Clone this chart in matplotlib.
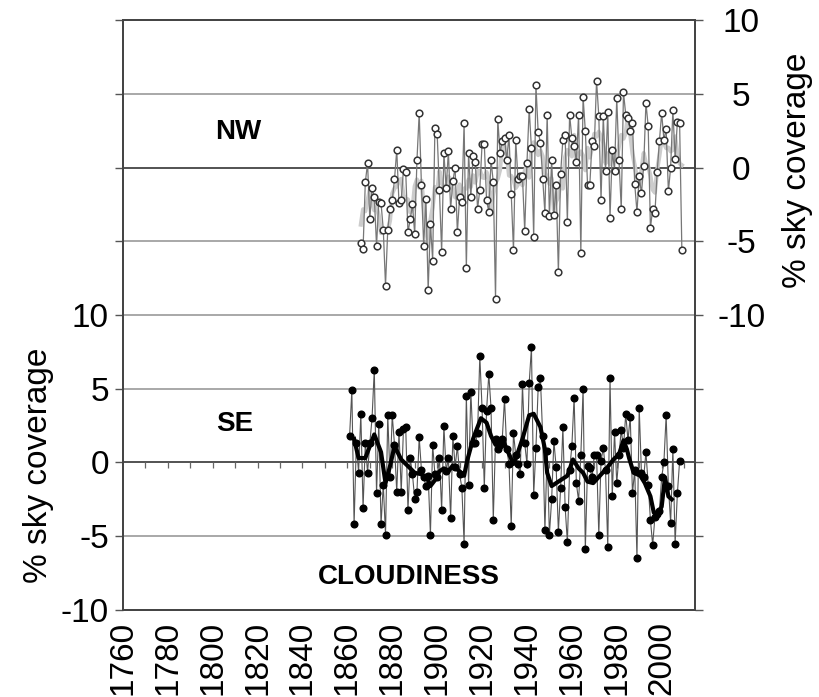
import numpy as np
import pandas as pd
import matplotlib
matplotlib.use('Agg')
import matplotlib.pyplot as plt

plt.rcParams['font.family'] = ['Liberation Sans', 'DejaVu Sans']

# NW cloudiness anomaly (% sky coverage), one value per year from 1866
nw_start = 1866
nw_values = [
    -5.1, -5.5, -1.0, 0.3, -3.5, -1.4, -2.0, -5.3, -2.3, -2.4,
    -4.2, -8.0, -4.2, -2.8, -2.2, -0.8, 1.2, -2.4, -2.2, -0.1,
    -0.3, -4.4, -3.5, -2.5, -4.5, 0.5, 3.7, -1.2, -5.3, -2.1,
    -8.3, -3.8, -6.3, 2.7, 2.3, -1.5, -5.7, 1.0, -1.4, 1.1,
    -2.8, -0.9, 0.0, -4.4, -2.0, -2.3, 3.0, -6.8, 1.0, -2.0,
    0.8, 0.4, -2.8, -1.5, 1.6, 1.6, -2.2, -3.0, 0.5, -1.0,
    -8.9, 3.3, 1.0, 1.8, 2.0, 0.5, 2.2, -1.8, -5.6, 1.9,
    -0.8, -0.6, -0.6, -4.3, 0.3, 4.0, 1.3, -4.7, 5.6, 2.4,
    1.7, -0.75, -3.1, 3.6, -3.3, 0.5, -3.2, -1.2, -7.1, -0.4,
    1.9, 2.2, -3.7, 3.6, 2.0, 1.5, 0.4, 3.6, -5.8, 4.8,
    2.5, -1.2, -1.2, 1.8, 1.5, 5.9, 3.5, -2.2, 3.5, -0.2,
    3.75, -3.4, 1.2, -0.2, 4.7, 0.5, -2.8, 5.1, 3.6, 3.4,
    2.5, 3.0, -1.1, -3.0, -0.6, -1.75, 0.1, 4.4, 2.8, -4.1,
    -2.8, -3.1, -0.3, 1.8, 3.7, 1.9, 2.6, -1.6, 0.0, 3.9,
    0.6, 3.1, 3.0, -5.6,
]

# SE cloudiness anomaly, one value per year from 1861
se_start = 1861
se_values = [
    1.8, 4.9, -4.2, 1.3, -0.7, 3.3, -3.1, 1.3, -0.7, 1.3,
    3.0, 6.3, -2.1, 2.6, -4.2, -1.5, -4.9, 3.2, -1.0, 3.2,
    1.2, -2.0, 2.1, -2.0, 2.3, 2.4, -3.2, 0.3, -0.8, -2.5,
    -2.0, 1.7, -0.5, -1.0, -1.6, -0.9, -4.9, 1.2, -0.8, -1.0,
    0.3, -3.2, 2.5, -0.6, 0.3, -3.8, 1.8, -0.3, 1.1, -0.8,
    -1.7, -5.5, 4.5, -1.5, 4.8, 1.3, 1.3, 2.0, 7.2, 3.7,
    -1.7, 3.5, 6.0, 3.7, -3.9, 1.6, 0.9, 1.2, 1.6, 4.3,
    0.9, -0.1, -4.3, 2.0, 0.5, -0.1, -0.8, 5.3, 1.3, -0.1,
    5.4, 7.8, -2.2, 1.0, 5.1, 5.7, 1.8, -4.6, 0.8, -4.9,
    -2.5, 1.45, -0.3, -4.7, -1.7, 2.4, -3.0, -5.4, -0.5, 1.1,
    4.4, -1.4, -2.6, 0.5, 5.0, -5.9, -0.25, -0.4, -1.0, 0.5,
    0.5, -4.9, 0.1, 1.0, -0.5, -5.75, 5.7, -2.3, 2.1, -1.4,
    0.5, 2.2, 1.0, 3.3, 1.5, 3.1, -2.1, -0.5, -6.5, 3.7,
    -0.7, -1.0, 0.7, -1.5, -3.9, -5.6, -3.7, -3.5, -3.3, -1.0,
    0.0, 3.2, -1.6, -4.1, 0.9, -5.5, -2.1, 0.1,
]

# SE smoothed curve (thick black line)
se_smooth_years = [
    1863, 1865, 1868, 1870, 1872, 1875, 1877, 1879, 1881, 1884,
    1887, 1890, 1893, 1896, 1897, 1899, 1901, 1903, 1905, 1907,
    1910, 1912, 1913.5, 1916, 1919.5, 1922, 1924, 1926, 1929, 1931,
    1934, 1936, 1938, 1941, 1943, 1946, 1948, 1949, 1951, 1953,
    1955, 1958, 1960.5, 1963, 1965, 1967, 1969.5, 1972.5, 1975.5, 1978.5,
    1981, 1983, 1984.5, 1985.5, 1987.5, 1990.5, 1992.5, 1995, 1996.5, 1998.5,
    2000, 2001.5, 2003, 2004.5,
]
se_smooth_values = [
    1.6, 0.3, 0.3, 1.1, 1.9, 0.7, -1.4, -0.25, 1.1, 0.2,
    -0.25, -0.7, -0.8, -1.2, -1.6, -1.2, -0.6, -0.4, -0.6, -0.2,
    -0.6, -0.9, 0.2, 1.6, 3.0, 2.7, 1.8, 1.2, 1.6, 0.9,
    -0.1, 0.7, 1.6, 3.2, 3.3, 2.4, 0.9, -0.7, -1.6, -1.4,
    -1.2, -0.9, 0.2, -0.4, -0.7, -1.3, -1.4, -0.9, -0.4, 0.2,
    0.55, 1.5, 0.9, 0.3, -0.7, -0.9, -1.4, -2.3, -3.4, -3.4,
    -3.0, -1.0, -2.3, -2.5,
]

nw_offset = 20  # NW panel sits 20 units above SE on the shared axes
year_ticks = list(range(1760, 2001, 20))

nw_years = np.arange(nw_start, nw_start + len(nw_values))
se_years = np.arange(se_start, se_start + len(se_values))
nw = pd.Series(nw_values, index=nw_years)
nw_smooth = nw.rolling(5, center=True, min_periods=3).mean()

fig = plt.figure(figsize=(8.19, 6.97), dpi=100)
ax = fig.add_axes([0.150, 0.125, 0.699, 0.846])

# grid lines
for y in [-5, 5, 10, 15, 25]:
    ax.axhline(y, color='#9a9a9a', lw=1.2, zorder=1)
for y in [0, 20]:
    ax.axhline(y, color='#444444', lw=1.3, zorder=1)
ax.vlines(np.arange(1770, 2011, 10), -0.35, 0, color='#666666', lw=0.9, zorder=1)

# NW panel
ax.plot(nw_years, nw_smooth + nw_offset, color='#cccccc', lw=3, zorder=2)
ax.plot(nw_years, nw.values + nw_offset, color='#777777', lw=0.9, zorder=3)
ax.plot(nw_years, nw.values + nw_offset, ls='none', marker='o', ms=4.8,
        mfc='white', mec='#333333', mew=1.1, zorder=4)

# SE panel
ax.plot(se_years, se_values, color='#555555', lw=0.8, zorder=3)
ax.plot(se_years, se_values, ls='none', marker='o', ms=4.8,
        mfc='black', mec='black', zorder=4)
ax.plot(se_smooth_years, se_smooth_values, color='black', lw=3, zorder=5)

ax.set_xlim(1760, 2015)
ax.set_ylim(-10, 30)
ax.set_xticks(year_ticks)
ax.set_xticklabels([str(y) for y in year_ticks], rotation=90, fontsize=24)
ax.tick_params(axis='x', length=0, pad=8)

ax.set_yticks(range(-10, 31, 5))
ax.set_yticklabels([str(v) if v <= 10 else '' for v in range(-10, 31, 5)], fontsize=24)
ax.tick_params(axis='y', direction='out', length=6, width=1, color='#555555', pad=4)
ax.set_ylabel('% sky coverage', fontsize=24)
ax.yaxis.set_label_coords(-0.12, 0.246)

ax2 = ax.twinx()
ax2.set_ylim(-10 - nw_offset, 30 - nw_offset)
ax2.set_yticks(range(-30, 11, 5))
ax2.set_yticklabels([str(v) if v >= -10 else '' for v in range(-30, 11, 5)], fontsize=24,
                    ha='center')
ax2.tick_params(axis='y', direction='out', length=6, width=1, color='#555555', pad=27)
ax2.set_ylabel('% sky coverage', fontsize=24, rotation=90)
ax2.yaxis.set_label_coords(1.152, 0.746)

for a in (ax, ax2):
    for s in a.spines.values():
        s.set_color('#444444')
        s.set_linewidth(1.3)

ax.text(1811.5, 22.4, 'NW', fontsize=20, fontweight='bold', ha='center', va='center')
ax.text(1810, 2.6, 'SE', fontsize=20, fontweight='bold', ha='center', va='center')
ax.text(1887.6, -7.75, 'CLOUDINESS', fontsize=20, fontweight='bold', ha='center', va='center')

fig.savefig('out.png', dpi=100)
